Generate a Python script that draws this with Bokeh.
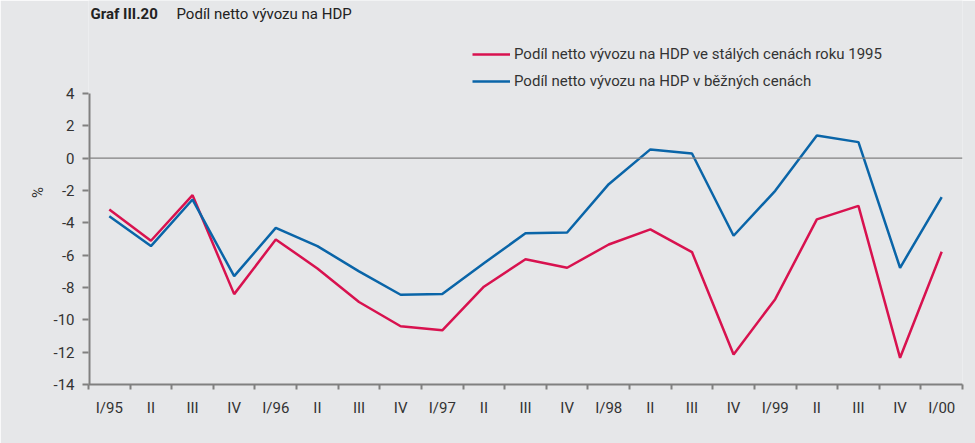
from bokeh.plotting import figure
from bokeh.models import FixedTicker, Span, Legend, LegendItem, Label, ColumnDataSource
from bokeh.embed import file_html
from bokeh.resources import INLINE

categories = ["I/95", "II", "III", "IV", "I/96", "II", "III", "IV", "I/97", "II", "III", "IV",
              "I/98", "II", "III", "IV", "I/99", "II", "III", "IV", "I/00"]
constant_prices = [-3.17, -5.11, -2.29, -8.41, -5.03, -6.82, -8.9, -10.4, -10.65, -7.95, -6.25, -6.78,
                   -5.34, -4.41, -5.81, -12.14, -8.72, -3.79, -2.95, -12.35, -5.79]
current_prices = [-3.59, -5.44, -2.56, -7.3, -4.31, -5.44, -7.0, -8.45, -8.4, -6.5, -4.65, -4.6,
                  -1.61, 0.54, 0.29, -4.8, -2.02, 1.40, 0.99, -6.78, -2.41]
y_ticks = [-14, -12, -10, -8, -6, -4, -2, 0, 2, 4]

BG = "#e6e7e9"
AX = "#808080"
RED = "#d8124f"
BLUE = "#0a65a8"
FONT = "Roboto"
TXT = "#333333"

xpos = [i + 0.5 for i in range(len(categories))]
src = ColumnDataSource(dict(x=xpos, red=constant_prices, blue=current_prices))

# frame reaches the top of the canvas (room for title and legend); the y axis line stops at 4
p = figure(width=975, height=443, output_backend="svg", toolbar_location=None,
           x_range=(0, len(categories)), y_range=(-14, 9.75),
           min_border_left=88, min_border_right=13, min_border_top=0, min_border_bottom=59,
           background_fill_color=BG, border_fill_color=BG, outline_line_color=None)
p.grid.visible = False

# x axis
xa = p.xaxis[0]
xa.ticker = FixedTicker(ticks=xpos, minor_ticks=list(range(len(categories) + 1)))
xa.major_label_overrides = {x: c for x, c in zip(xpos, categories)}
xa.major_tick_out = 0
xa.major_tick_in = 0
xa.minor_tick_out = 5
xa.minor_tick_in = 0
xa.minor_tick_line_color = AX
xa.minor_tick_line_width = 2
xa.axis_line_color = AX
xa.axis_line_width = 2
xa.major_label_standoff = 9
xa.major_label_text_font = FONT
xa.major_label_text_font_size = "15px"
xa.major_label_text_color = TXT

# y axis
ya = p.yaxis[0]
ya.ticker = FixedTicker(ticks=y_ticks, minor_ticks=[])
ya.major_label_overrides = {t: str(t) for t in y_ticks}
ya.major_tick_out = 6
ya.major_tick_in = 0
ya.major_tick_line_color = AX
ya.major_tick_line_width = 2
ya.axis_line_color = None
ya.major_label_standoff = 8
ya.major_label_text_font = FONT
ya.major_label_text_font_size = "15px"
ya.major_label_text_color = TXT
ya.axis_label = "%"
ya.axis_label_text_font = FONT
ya.axis_label_text_font_size = "15px"
ya.axis_label_text_font_style = "normal"
ya.axis_label_text_color = TXT
ya.axis_label_standoff = 3

# y axis line from the lowest to the highest tick
p.segment(x0=[0], y0=[min(y_ticks)], x1=[0], y1=[max(y_ticks)], line_color=AX, line_width=4)

p.add_layout(Span(location=0, dimension="width", line_color=AX, line_width=1.2))

r_red = p.line("x", "red", source=src, line_color=RED, line_width=2.5)
r_blue = p.line("x", "blue", source=src, line_color=BLUE, line_width=2.5)

legend = Legend(items=[
    LegendItem(label="Podíl netto vývozu na HDP ve stálých cenách roku 1995", renderers=[r_red]),
    LegendItem(label="Podíl netto vývozu na HDP v běžných cenách", renderers=[r_blue]),
], location=(384, 293), orientation="vertical",
    glyph_width=38, glyph_height=20, label_height=20, spacing=7, padding=0, margin=0,
    label_standoff=4, border_line_color=None, background_fill_alpha=0,
    label_text_font=FONT, label_text_font_size="15px", label_text_color=TXT)
p.add_layout(legend, "center")

p.add_layout(Label(x=2, y=371, x_units="screen", y_units="screen", text="Graf III.20",
                   text_font=FONT, text_font_size="15px", text_font_style="bold",
                   text_color="#222222", text_baseline="alphabetic"))
p.add_layout(Label(x=88, y=371, x_units="screen", y_units="screen", text="Podíl netto vývozu na HDP",
                   text_font=FONT, text_font_size="15px", text_color="#222222",
                   text_baseline="alphabetic"))

open("out.html", "w").write(file_html(p, INLINE))
